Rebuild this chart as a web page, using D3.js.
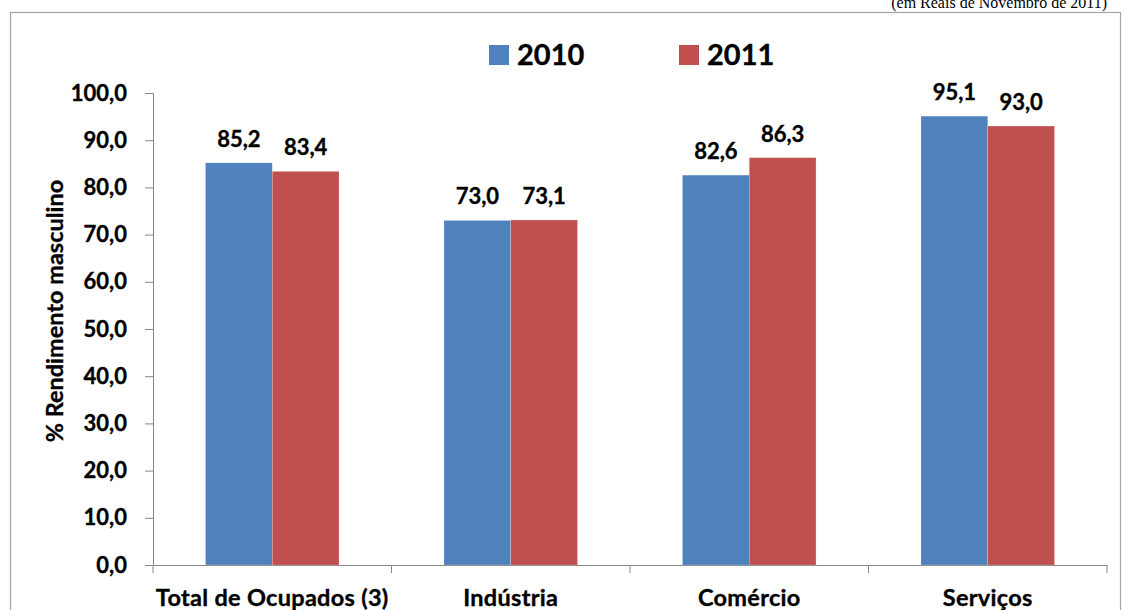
<!DOCTYPE html>
<html>
<head>
<meta charset="utf-8">
<script src="https://cdn.jsdelivr.net/npm/d3@7"></script>
<style>
  body { margin: 0; background: #fff; }
  svg { display: block; }
  .bold { font-family: Lato, 'Open Sans', sans-serif; font-weight: bold; fill: #000; stroke: #000; stroke-width: 0.35px; }
</style>
</head>
<body>
<svg id="chart" width="1127" height="610"></svg>
<script>
const categories = ["Total de Ocupados (3)", "Indústria", "Comércio", "Serviços"];
const seriesNames = ["2010", "2011"];
const values2010 = [85.2, 73.0, 82.6, 95.1];
const values2011 = [83.4, 73.1, 86.3, 93.0];
const yTicks = [0, 10, 20, 30, 40, 50, 60, 70, 80, 90, 100];
const colors = ["#4F81BD", "#C0504D"];

const fmt = v => v.toFixed(1).replace(".", ",");

const svg = d3.select("#chart");
const m = { left: 153, right: 1107, top: 93, bottom: 565 };

// outer frame
svg.append("rect")
  .attr("x", 10.5).attr("y", 12.5)
  .attr("width", 1110).attr("height", 620)
  .attr("fill", "none").attr("stroke", "#a6a6a6").attr("stroke-width", 1.2);

// unit note
svg.append("text")
  .attr("x", 1107).attr("y", 8)
  .attr("text-anchor", "end")
  .attr("font-family", "'Liberation Serif', 'DejaVu Serif', serif")
  .attr("font-size", 16)
  .attr("fill", "#000")
  .text("(em Reais de Novembro de 2011)");

const x = d3.scaleBand().domain(categories).range([m.left, m.right]).paddingInner(0).paddingOuter(0);
const bandPad = 0.22;
const xs = d3.scaleBand().domain(seriesNames)
  .range([x.bandwidth() * bandPad, x.bandwidth() * (1 - bandPad)]);
const y = d3.scaleLinear().domain([0, 100]).range([m.bottom, m.top]);

// y axis
const yAxis = d3.axisLeft(y).tickValues(yTicks).tickSize(8).tickPadding(18).tickFormat(fmt);
const gy = svg.append("g").attr("transform", `translate(${m.left},0)`).call(yAxis);
gy.select(".domain").attr("stroke", "#868686");
gy.selectAll(".tick line").attr("stroke", "#868686");
gy.selectAll(".tick text")
  .attr("class", "bold").attr("font-size", 22).attr("font-family", null);

// x axis
const xAxis = d3.axisBottom(x).tickSize(0).tickFormat("");
const gx = svg.append("g").attr("transform", `translate(0,${m.bottom})`).call(xAxis);
gx.select(".domain").attr("stroke", "#868686");
const boundaries = categories.map(c => x(c)).concat([m.right]);
gx.selectAll(".cat-tick").data(boundaries).enter().append("line")
  .attr("x1", d => d).attr("x2", d => d)
  .attr("y1", 0).attr("y2", 8)
  .attr("stroke", "#868686");
svg.selectAll(".cat-label").data(categories).enter().append("text")
  .attr("class", "bold")
  .attr("x", d => x(d) + x.bandwidth() / 2)
  .attr("y", 606)
  .attr("text-anchor", "middle")
  .attr("font-size", 23.5)
  .style("letter-spacing", "0.3px")
  .text(d => d);

// bars
const data = [];
categories.forEach((c, i) => {
  data.push({ cat: c, s: "2010", v: values2010[i], col: colors[0] });
  data.push({ cat: c, s: "2011", v: values2011[i], col: colors[1] });
});
svg.selectAll(".bar").data(data).enter().append("rect")
  .attr("x", d => x(d.cat) + xs(d.s))
  .attr("y", d => y(d.v))
  .attr("width", xs.bandwidth())
  .attr("height", d => y(0) - y(d.v))
  .attr("fill", d => d.col)
  .attr("stroke", "rgba(255,255,255,0.35)").attr("stroke-width", 0.6);

// value labels
svg.selectAll(".val").data(data).enter().append("text")
  .attr("class", "bold")
  .attr("x", d => x(d.cat) + xs(d.s) + xs.bandwidth() / 2)
  .attr("y", d => y(d.v) - 16)
  .attr("text-anchor", "middle")
  .attr("font-size", 22)
  .text(d => fmt(d.v));

// y axis title
svg.append("text")
  .attr("class", "bold")
  .attr("transform", "translate(63,311) rotate(-90)")
  .attr("text-anchor", "middle")
  .attr("font-size", 23.5)
  .text("% Rendimento masculino");

// legend
const legendX = [489, 679];
seriesNames.forEach((s, i) => {
  svg.append("rect").attr("x", legendX[i]).attr("y", 45).attr("width", 20).attr("height", 20)
    .attr("fill", colors[i]);
  svg.append("text").attr("class", "bold")
    .attr("x", legendX[i] + 28).attr("y", 65)
    .attr("font-size", 29)
    .text(s);
});
</script>
</body>
</html>
